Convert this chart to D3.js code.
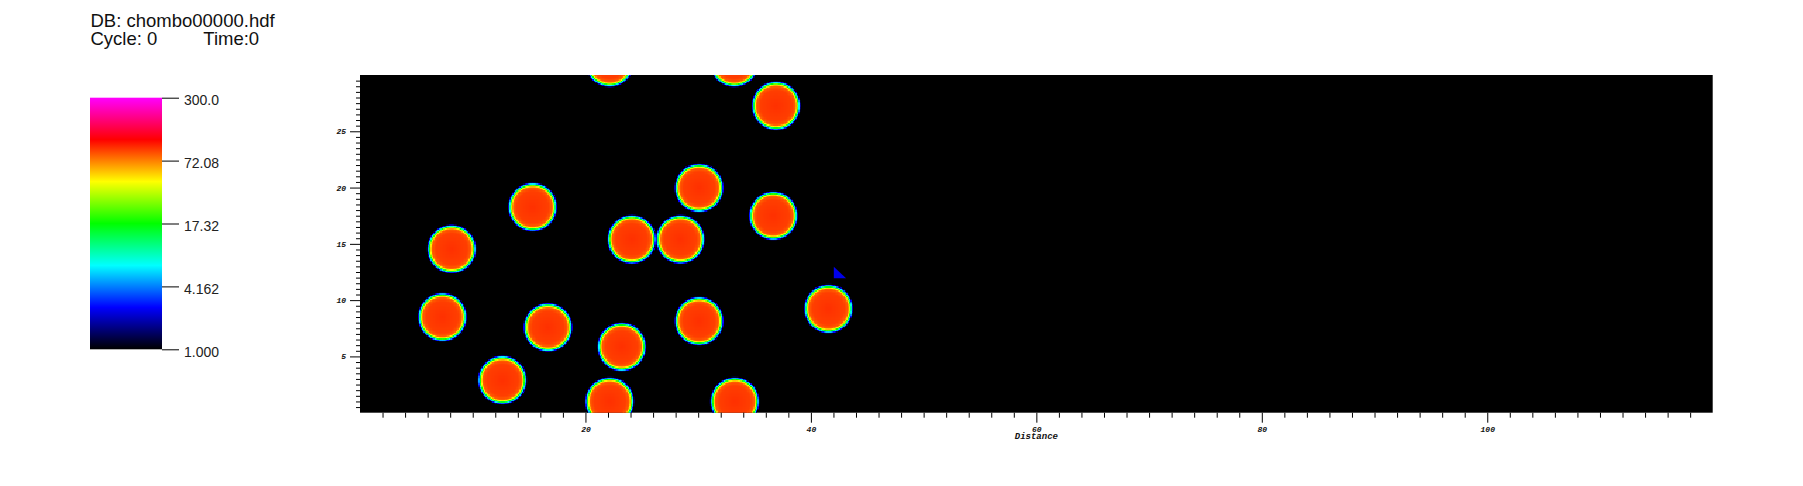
<!DOCTYPE html>
<html>
<head>
<meta charset="utf-8">
<script src="https://cdn.jsdelivr.net/npm/d3@7"></script>
<style>
  html, body { margin: 0; padding: 0; background: #ffffff; }
  svg { display: block; }
</style>
</head>
<body>
<svg id="chart" width="1803" height="486"></svg>
<script>
// ---------------- data ----------------
const titleLine1 = "DB: chombo00000.hdf";
const cycleText = "Cycle: 0";
const timeText = "Time:0";
const xLabel = "Distance";

// particle (disc) centres in data units
const circleX = [8.13, 15.32, 7.31, 16.68, 12.63, 22.15, 33.25, 22.15, 33.2, 36.91, 30.08, 36.67, 24.11, 28.42, 41.56, 30.08, 23.22];
const circleY = [14.54, 18.27, 8.5, 7.58, 2.9, 1.0, 1.0, 31.1, 31.1, 27.27, 19.98, 17.5, 15.4, 15.4, 9.24, 8.14, 5.86];

// radial profile of the field around each disc centre
const profileDist  = [0, 1.4, 1.72, 1.85, 1.95, 2.03, 2.1, 2.17, 2.22];
const profileValue = [97, 92, 82, 45, 17, 7, 3, 1.3, 1];

// small artefact triangle
const triangleX = [42.03, 42.03, 43.12];
const triangleY = [12.97, 11.94, 11.94];
const triangleValue = 2.4;

// axes
const xDomain = [0, 120];
const yDomain = [0, 30];
const xMajorTicks = [20, 40, 60, 80, 100];
const yMajorTicks = [5, 10, 15, 20, 25];
const xMinorStep = 2;
const yMinorStep = 0.5;

// colour bar
const colorMin = 1, colorMax = 300;
const colorbarTicks = [1.0, 4.162, 17.32, 72.08, 300.0];
const colorbarTickLabels = ["1.000", "4.162", "17.32", "72.08", "300.0"];
const rampStops = [0, 1/6, 2/6, 3/6, 4/6, 5/6, 1];
const rampColors = ["#000000", "#0000ff", "#00ffff", "#00ff00", "#ffff00", "#ff0000", "#ff00ff"];

const cellSize = 0.125;

// ---------------- layout ----------------
const plot = { left: 360, right: 1712.7, top: 75, bottom: 412.7 };
const cbar = { left: 90, right: 162, top: 97.7, bottom: 349.3 };

const svg = d3.select("#chart");

const x = d3.scaleLinear().domain(xDomain).range([plot.left, plot.right]);
const y = d3.scaleLinear().domain(yDomain).range([plot.bottom, plot.top]);

const tScale = d3.scaleLog().domain([colorMin, colorMax]).range([0, 1]).clamp(true);
const ramp = d3.scaleLinear().domain(rampStops).range(rampColors).clamp(true);
const color = v => ramp(tScale(v));
const profile = d3.scaleLinear().domain(profileDist).range(profileValue).clamp(true);

// ---------------- title ----------------
const title = svg.append("g").attr("font-family", "'Liberation Sans', Arial, sans-serif")
  .attr("font-size", 18.5).attr("fill", "#111");
title.append("text").attr("x", 90.5).attr("y", 27.3).text(titleLine1);
title.append("text").attr("x", 90.5).attr("y", 44.6).text(cycleText);
title.append("text").attr("x", 203.3).attr("y", 44.6).text(timeText);

// ---------------- plot background ----------------
const defs = svg.append("defs");
defs.append("clipPath").attr("id", "plotClip").append("rect")
  .attr("x", plot.left).attr("y", plot.top)
  .attr("width", plot.right - plot.left).attr("height", plot.bottom - plot.top);

svg.append("rect")
  .attr("x", plot.left).attr("y", plot.top)
  .attr("width", plot.right - plot.left).attr("height", plot.bottom - plot.top)
  .attr("fill", "#000");

// ---------------- field cells ----------------
const cells = [];
const nx = Math.round((xDomain[1] - xDomain[0]) / cellSize);
const ny = Math.round((yDomain[1] - yDomain[0]) / cellSize);
for (let i = 0; i < nx; i++) {
  const cx = xDomain[0] + (i + 0.5) * cellSize;
  for (let j = 0; j < ny; j++) {
    const cy = yDomain[0] + (j + 0.5) * cellSize;
    let best = 1;
    for (let k = 0; k < circleX.length; k++) {
      const dx = cx - circleX[k], dy = cy - circleY[k];
      if (Math.abs(dx) > 2.3 || Math.abs(dy) > 2.3) continue;
      const v = profile(Math.sqrt(dx * dx + dy * dy));
      if (v > best) best = v;
    }
    if (best > 1.02) cells.push({ x0: xDomain[0] + i * cellSize, y0: yDomain[0] + j * cellSize, v: best });
  }
}

const cw = x(cellSize) - x(0);
const ch = y(0) - y(cellSize);
svg.append("g").attr("clip-path", "url(#plotClip)").attr("shape-rendering", "crispEdges")
  .selectAll("rect").data(cells).join("rect")
  .attr("x", d => x(d.x0))
  .attr("y", d => y(d.y0 + cellSize))
  .attr("width", cw + 0.05)
  .attr("height", ch + 0.05)
  .attr("fill", d => color(d.v));

// triangle artefact
svg.append("path")
  .datum(d3.range(triangleX.length).map(i => [triangleX[i], triangleY[i]]))
  .attr("d", d => d3.line().x(p => x(p[0])).y(p => y(p[1]))(d) + "Z")
  .attr("fill", color(triangleValue));

// ---------------- axes ----------------
const tickFont = "'Liberation Mono', 'Courier New', monospace";
const xMinor = d3.range(xDomain[0] + xMinorStep, xDomain[1], xMinorStep).filter(v => !xMajorTicks.includes(v));
const yMinor = d3.range(yDomain[0] + yMinorStep, yDomain[1] - 1e-9, yMinorStep).filter(v => !yMajorTicks.some(m => Math.abs(m - v) < 1e-9));

function styleAxis(g) {
  g.select(".domain").remove();
  g.selectAll(".tick line").attr("stroke", "#000").attr("stroke-width", 1);
  g.selectAll(".tick text").attr("fill", "#111")
    .attr("font-family", tickFont).attr("font-style", "italic").attr("font-weight", "bold").attr("font-size", 8);
}

svg.append("g").attr("transform", `translate(0,${plot.bottom})`)
  .call(d3.axisBottom(x).tickValues(xMinor).tickSize(5).tickFormat(""))
  .call(styleAxis);
svg.append("g").attr("transform", `translate(0,${plot.bottom})`)
  .call(d3.axisBottom(x).tickValues(xMajorTicks).tickSize(10).tickPadding(4).tickFormat(d3.format("d")))
  .call(styleAxis);

svg.append("g").attr("transform", `translate(${plot.left},0)`)
  .call(d3.axisLeft(y).tickValues(yMinor).tickSize(4).tickFormat(""))
  .call(styleAxis);
svg.append("g").attr("transform", `translate(${plot.left},0)`)
  .call(d3.axisLeft(y).tickValues(yMajorTicks).tickSize(10).tickPadding(4).tickFormat(d3.format("d")))
  .call(styleAxis);

svg.append("text")
  .attr("x", x(d3.mean(xDomain))).attr("y", 438.5)
  .attr("text-anchor", "middle")
  .attr("font-family", tickFont).attr("font-style", "italic").attr("font-weight", "bold")
  .attr("font-size", 9).attr("fill", "#111")
  .text(xLabel);

// ---------------- colour bar ----------------
const cb = d3.scaleLog().domain([colorMin, colorMax]).range([cbar.bottom, cbar.top]);
const grad = defs.append("linearGradient").attr("id", "cbGrad")
  .attr("x1", 0).attr("y1", 1).attr("x2", 0).attr("y2", 0);
grad.selectAll("stop").data(rampStops).join("stop")
  .attr("offset", d => d)
  .attr("stop-color", (d, i) => rampColors[i]);

svg.append("rect")
  .attr("x", cbar.left).attr("y", cbar.top)
  .attr("width", cbar.right - cbar.left).attr("height", cbar.bottom - cbar.top)
  .attr("fill", "url(#cbGrad)");

const cbAxis = svg.append("g").attr("transform", `translate(${cbar.right},0)`)
  .call(d3.axisRight(cb).tickValues(colorbarTicks).tickSize(17).tickPadding(5)
    .tickFormat((d, i) => colorbarTickLabels[i]));
cbAxis.select(".domain").remove();
cbAxis.selectAll(".tick line").attr("stroke", "#000").attr("stroke-width", 1);
cbAxis.selectAll(".tick text").attr("fill", "#222").attr("dy", "0.5em")
  .attr("font-family", "'Liberation Sans', Arial, sans-serif").attr("font-size", 14);
</script>
</body>
</html>
